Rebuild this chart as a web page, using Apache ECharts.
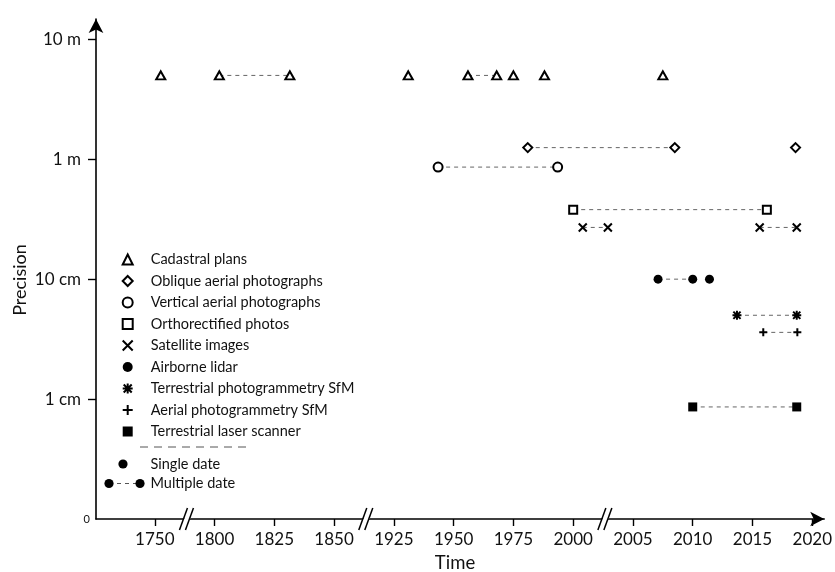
<!DOCTYPE html>
<html><head><meta charset="utf-8">
<script src="https://cdn.jsdelivr.net/npm/echarts@6/dist/echarts.min.js"></script>
<style>html,body{margin:0;padding:0;background:#fff}#c{width:835px;height:572px}</style>
</head><body><div id="c"></div>
<script>
const FONT = 'Lato';

// x tick labels (broken time axis)
const tickLabels = ['1750','1800','1825','1850','1925','1950','1975','2000','2005','2010','2015','2020'];
// y tick labels (precision, metres)
const precisionTicks = [0.001, 0.01, 0.1, 1, 10];
const precisionLabels = ['0', '1 cm', '10 cm', '1 m', '10 m'];

const categories = ['Cadastral plans','Oblique aerial photographs','Vertical aerial photographs','Orthorectified photos','Satellite images','Airborne lidar','Terrestrial photogrammetry SfM','Aerial photogrammetry SfM','Terrestrial laser scanner'];

// precision of each category (metres)
const precisions = [5, 1.25, 0.86, 0.38, 0.27, 0.1, 0.05, 0.036, 0.0086];

// dates of each category
const cadastralYears   = [1752.5, 1802, 1831.5, 1931, 1956, 1968, 1975, 1988, 2007.5];
const obliqueYears     = [1981, 2008.5, 2018.6];
const verticalYears    = [1943.5, 1993.5];
const orthoYears       = [2000, 2016.2];
const satelliteYears   = [2000.8, 2002.9, 2015.6, 2018.7];
const lidarYears       = [2007.1, 2010, 2011.4];
const terrSfmYears     = [2013.7, 2018.7];
const aerialSfmYears   = [2015.9, 2018.75];
const tlsYears         = [2010, 2018.7];

// multiple-date links (pairs of years)
const cadastralLinks = [[1802, 1831.5], [1956, 1968]];
const obliqueLinks   = [[1981, 2008.5]];
const verticalLinks  = [[1943.5, 1993.5]];
const orthoLinks     = [[2000, 2016.2]];
const satelliteLinks = [[2000.8, 2002.9], [2015.6, 2018.7]];
const lidarLinks     = [[2007.1, 2010]];
const terrSfmLinks   = [[2013.7, 2018.7]];
const aerialSfmLinks = [[2015.9, 2018.75]];
const tlsLinks       = [[2010, 2018.7]];

const years = [cadastralYears, obliqueYears, verticalYears, orthoYears, satelliteYears, lidarYears, terrSfmYears, aerialSfmYears, tlsYears];
const links = [cadastralLinks, obliqueLinks, verticalLinks, orthoLinks, satelliteLinks, lidarLinks, terrSfmLinks, aerialSfmLinks, tlsLinks];

// broken time axis: map a year onto the axis
function yearToAxis(y) {
  if (y < 1775) return (y - 1750) / 25;
  if (y < 1890) return 1 + (y - 1800) / 25;
  if (y <= 2000) return 4 + (y - 1925) / 25;
  return 8 + (y - 2005) / 5;
}
const tickValues = tickLabels.map(t => yearToAxis(+t));

// styles
const X_PATH = 'path://M0,0L10,10M10,0L0,10';
const PLUS_PATH = 'path://M5,0L5,10M0,5L10,5';
const AST_PATH = 'path://M1,1L9,9M9,1L1,9M5,0L5,10M0,5L10,5';
const hollow = {color:'#fff', borderColor:'#000', borderWidth:2, opacity:1};
const filled = {color:'#000', borderWidth:0, opacity:1};
const stroke = {color:'rgba(0,0,0,0)', borderColor:'#000', borderWidth:2, opacity:1};
const symbols = ['triangle','diamond','circle','rect',X_PATH,'circle',AST_PATH,PLUS_PATH,'rect'];
const sizes = [[9,8],9,9,8,8,9,9,8,9];
const styles = [hollow,hollow,hollow,hollow,stroke,filled,stroke,stroke,filled];

const series = [];
categories.forEach((cat, i) => {
  links[i].forEach(pair => {
    series.push({
      type:'line', silent:true, symbol:'none', z:2,
      data: pair.map(y => [yearToAxis(y), precisions[i]]),
      lineStyle:{color:'#666', width:1, type:[4,4]}
    });
  });
});
categories.forEach((cat, i) => {
  series.push({
    name:cat, type:'scatter', z:5,
    symbol:symbols[i], symbolSize:sizes[i],
    itemStyle:styles[i],
    emphasis:{disabled:true},
    data: years[i].map(y => [yearToAxis(y), precisions[i]])
  });
});

const chart = echarts.init(document.getElementById('c'), null, {renderer:'canvas'});
const option = {
  animation:false,
  textStyle:{fontFamily:FONT},
  grid:{left:96, right:8, top:19, bottom:53},
  legend:{
    data:categories, orient:'vertical', left:121.7, top:252, padding:0,
    itemWidth:10, itemHeight:10, itemGap:6.5, selectedMode:false,
    textStyle:{fontFamily:FONT, fontSize:14.5, color:'#111', lineHeight:14, padding:[0,0,0,13]}
  },
  xAxis:{
    type:'value', min:-0.9833, max:11.2,
    splitLine:{show:false},
    axisLine:{onZero:false, lineStyle:{color:'#000', width:1.6}, symbol:['none','arrow'], symbolSize:[11,14]},
    axisTick:{customValues:tickValues, length:7, lineStyle:{color:'#000', width:1.4}},
    axisLabel:{customValues:tickValues, margin:12, fontSize:17, color:'#111', fontFamily:FONT,
      formatter: v => { const k = tickValues.findIndex(t => Math.abs(t - v) < 1e-6); return k >= 0 ? tickLabels[k] : ''; }}
  },
  yAxis:{
    type:'log', min:0.001, max:14.77, logBase:10,
    splitLine:{show:false},
    axisLine:{onZero:false, lineStyle:{color:'#000', width:1.6}, symbol:['none','arrow'], symbolSize:[11,14]},
    axisTick:{customValues:precisionTicks.slice(1), length:8, lineStyle:{color:'#000', width:1.4}},
    axisLabel:{customValues:precisionTicks.slice(1), margin:15, fontSize:17, color:'#111', fontFamily:FONT,
      formatter: v => { const k = precisionTicks.findIndex(t => Math.abs(Math.log10(t) - Math.log10(v)) < 1e-6); return k >= 0 ? precisionLabels[k] : ''; }}
  },
  series
};
chart.setOption(option);

// decorations: axis breaks, zero label, titles, legend notes
const xAxisY = chart.convertToPixel({yAxisIndex:0}, precisionTicks[0]);
const yAxisX = chart.convertToPixel({xAxisIndex:0}, -0.9833);
const breakAt = [0.53, 3.53, 7.53];
const g = [];
breakAt.forEach(u => {
  const x = chart.convertToPixel({xAxisIndex:0}, u);
  g.push({type:'polygon', shape:{points:[[x-4,xAxisY+2],[x+2,xAxisY+2],[x+5,xAxisY-2],[x-1,xAxisY-2]]}, style:{fill:'#fff'}, z:100});
  [-3, 3].forEach(d => g.push({type:'line', shape:{x1:x+d-4, y1:xAxisY+11, x2:x+d+4, y2:xAxisY-11}, style:{stroke:'#000', lineWidth:1.5}, z:101}));
});
g.push({type:'text', x:yAxisX-6, y:xAxisY, style:{text:'0', font:'11px '+FONT, fill:'#111', align:'right', verticalAlign:'middle'}});
g.push({type:'text', x:20, y:280, rotation:Math.PI/2, style:{text:'Precision', font:'18px '+FONT, fill:'#111', align:'center', verticalAlign:'middle'}});
g.push({type:'text', x:455, y:563, style:{text:'Time', font:'18.5px '+FONT, fill:'#111', align:'center', verticalAlign:'middle'}});
// legend notes
g.push({type:'line', shape:{x1:140, y1:447, x2:248, y2:447}, style:{stroke:'#555', lineWidth:1, lineDash:[8,6]}});
g.push({type:'circle', shape:{cx:123, cy:464, r:4.6}, style:{fill:'#000'}});
g.push({type:'text', x:150.5, y:464, style:{text:'Single date', font:'14.5px '+FONT, fill:'#111', verticalAlign:'middle'}});
g.push({type:'line', shape:{x1:109, y1:483.5, x2:140, y2:483.5}, style:{stroke:'#555', lineWidth:1, lineDash:[4,4]}});
g.push({type:'circle', shape:{cx:109, cy:483.5, r:4.6}, style:{fill:'#000'}});
g.push({type:'circle', shape:{cx:140, cy:483.5, r:4.6}, style:{fill:'#000'}});
g.push({type:'text', x:150.5, y:483.5, style:{text:'Multiple date', font:'14.5px '+FONT, fill:'#111', verticalAlign:'middle'}});
chart.setOption({graphic:g});
</script></body></html>
